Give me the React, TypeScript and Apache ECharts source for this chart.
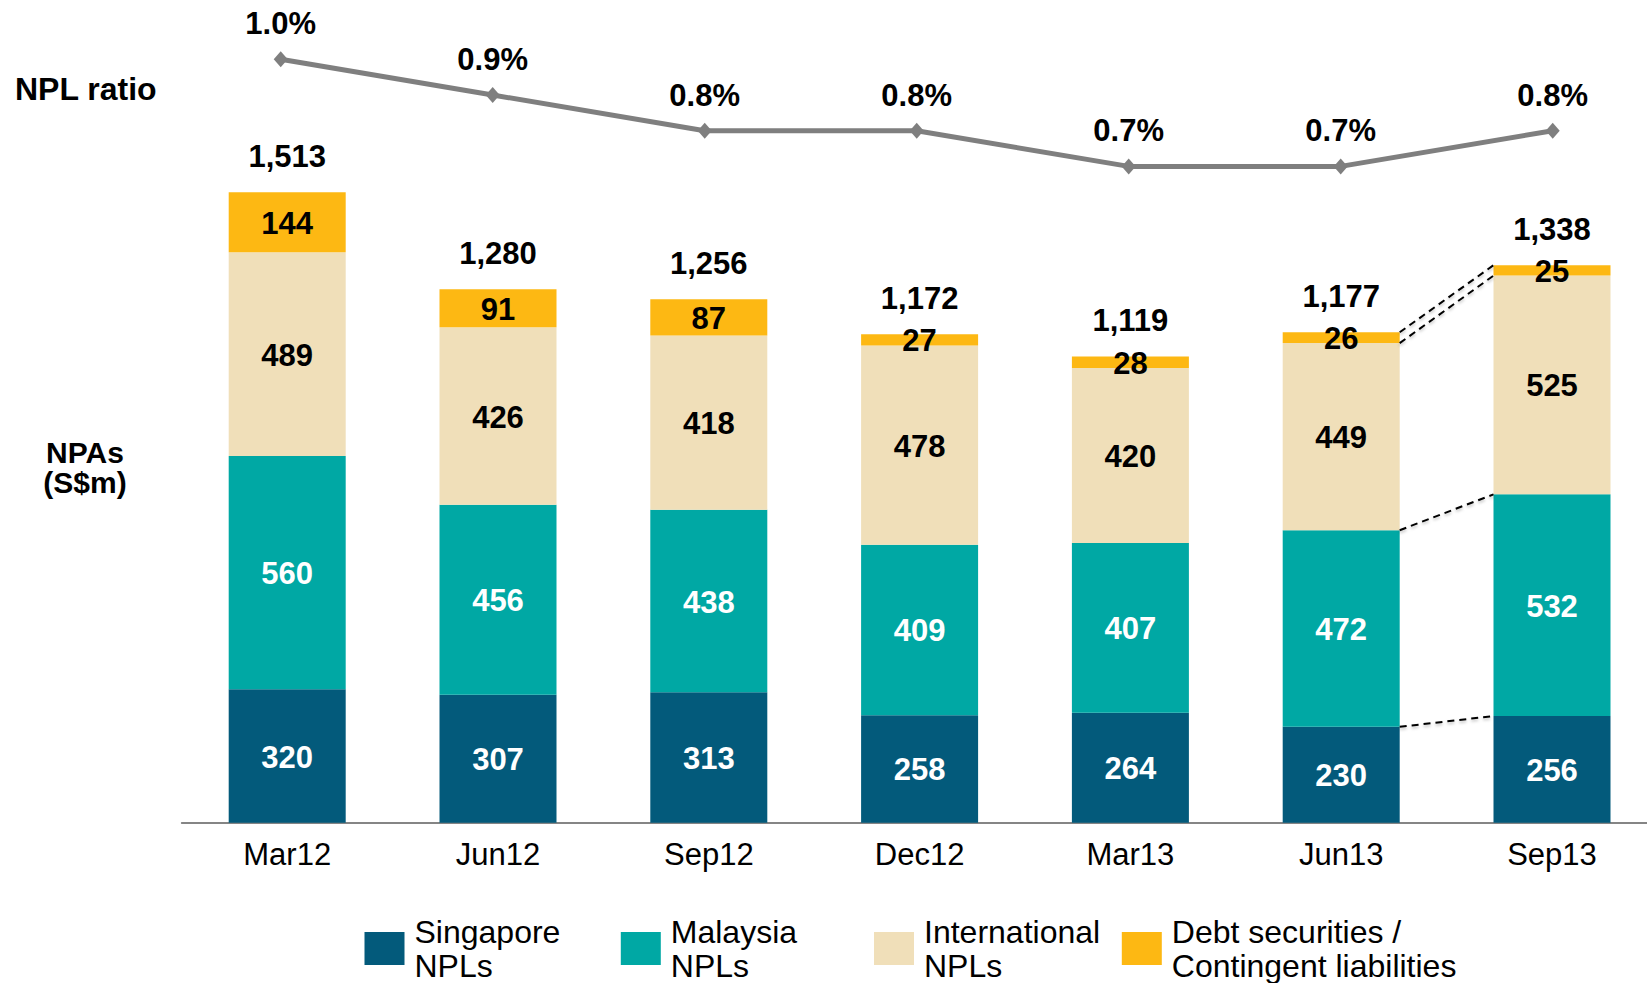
import React, { useEffect, useRef } from "react";
import * as echarts from "echarts";

const CATEGORIES = ["Mar12", "Jun12", "Sep12", "Dec12", "Mar13", "Jun13", "Sep13"];
const SINGAPORE = [320, 307, 313, 258, 264, 230, 256];
const MALAYSIA = [560, 456, 438, 409, 407, 472, 532];
const INTERNATIONAL = [489, 426, 418, 478, 420, 449, 525];
const DEBT = [144, 91, 87, 27, 28, 26, 25];
const TOTALS = [1513, 1280, 1256, 1172, 1119, 1177, 1338];
const NPL_RATIO = [1.0, 0.9, 0.8, 0.8, 0.7, 0.7, 0.8];

const SERIES_NAMES = ["Singapore NPLs", "Malaysia NPLs", "International NPLs", "Debt securities / Contingent liabilities"];
const LEGEND_TEXT = ["Singapore\nNPLs", "Malaysia\nNPLs", "International\nNPLs", "Debt securities /\nContingent liabilities"];
const COLORS = ["#035A7B", "#00A8A4", "#F0DFB9", "#FDB813"];
const LABEL_COLORS = ["#FFFFFF", "#FFFFFF", "#000000", "#000000"];

const FONT = "'Liberation Sans', Arial, Helvetica, sans-serif";
const BAR_WIDTH = 117;
const BOLD_SIZE = 31;

export default function App() {
  const ref = useRef<HTMLDivElement>(null);

  useEffect(() => {
    if (!ref.current) return;
    const chart = echarts.init(ref.current, null, { renderer: "svg" });
    const stacks = [SINGAPORE, MALAYSIA, INTERNATIONAL, DEBT];

    // cumulative boundaries for the Jun13 -> Sep13 connector lines
    const from = 5;
    const to = 6;
    const connectors: number[][] = [];
    let c1 = 0;
    let c2 = 0;
    stacks.forEach((s) => {
      c1 += s[from];
      c2 += s[to];
      connectors.push([from, to, c1, c2]);
    });

    const barSeries = stacks.map((data, i) => ({
      name: SERIES_NAMES[i],
      type: "bar",
      stack: "npa",
      xAxisIndex: 0,
      yAxisIndex: 0,
      barWidth: BAR_WIDTH,
      data,
      itemStyle: { color: COLORS[i] },
      label: {
        show: true,
        position: "inside",
        offset: [0, 1],
        color: LABEL_COLORS[i],
        fontFamily: FONT,
        fontWeight: "bold",
        fontSize: BOLD_SIZE,
        formatter: "{c}",
      },
      z: 2,
    }));

    const legends = SERIES_NAMES.map((name, i) => ({
      data: [name],
      left: [364.5, 620.8, 874, 1121.8][i],
      top: 914.5,
      padding: 0,
      orient: "horizontal",
      itemWidth: 40,
      itemHeight: 33,
      icon: "rect",
      formatter: () => LEGEND_TEXT[i],
      textStyle: {
        fontFamily: FONT,
        fontSize: 32,
        lineHeight: 34,
        color: "#000",
        padding: [0, 0, 0, 5],
      },
      selectedMode: false,
    }));

    chart.setOption({
      animation: false,
      backgroundColor: "#ffffff",
      grid: [
        { left: 181.8, top: 72.7, width: 1475.6, height: 750 },
        { left: 174.7, top: 23.6, width: 1484, height: 178.5 },
      ],
      legend: legends,
      xAxis: [
        {
          type: "category",
          gridIndex: 0,
          data: CATEGORIES,
          axisLine: { show: true, lineStyle: { color: "#858585", width: 2 } },
          axisTick: { show: false },
          axisLabel: {
            color: "#000",
            fontFamily: FONT,
            fontSize: 31,
            lineHeight: 30,
            margin: 17,
          },
        },
        {
          type: "category",
          gridIndex: 1,
          data: CATEGORIES,
          show: false,
        },
      ],
      yAxis: [
        { type: "value", gridIndex: 0, min: 0, max: 1800, show: false, splitLine: { show: false } },
        { type: "value", gridIndex: 1, min: 0.6, max: 1.1, show: false, splitLine: { show: false } },
      ],
      series: [
        ...barSeries,
        {
          name: "Total",
          type: "scatter",
          xAxisIndex: 0,
          yAxisIndex: 0,
          data: TOTALS,
          symbolSize: 1,
          itemStyle: { color: "rgba(0,0,0,0)", opacity: 1 },
          label: {
            show: true,
            position: "inside",
            offset: [0, -36],
            color: "#000",
            fontFamily: FONT,
            fontWeight: "bold",
            fontSize: BOLD_SIZE,
            formatter: (p: any) => Number(p.value).toLocaleString("en-US"),
          },
          z: 5,
        },
        {
          name: "Connectors",
          type: "custom",
          xAxisIndex: 0,
          yAxisIndex: 0,
          data: connectors,
          encode: { x: [0, 1], y: [2, 3] },
          renderItem: (params: any, api: any) => {
            const p1 = api.coord([api.value(0), api.value(2)]);
            const p2 = api.coord([api.value(1), api.value(3)]);
            const half = BAR_WIDTH / 2;
            return {
              type: "line",
              shape: { x1: p1[0] + half, y1: p1[1], x2: p2[0] - half, y2: p2[1] },
              style: {
                stroke: "#000",
                lineWidth: 2,
                lineDash: [7, 5],
                shadowColor: "rgba(0,0,0,0.25)",
                shadowBlur: 3,
                shadowOffsetY: 2,
              },
            };
          },
          z: 3,
        },
        {
          name: "NPL ratio",
          type: "line",
          xAxisIndex: 1,
          yAxisIndex: 1,
          data: NPL_RATIO,
          clip: false,
          symbol: "diamond",
          symbolSize: [14, 16],
          lineStyle: { color: "#7F7F7F", width: 5 },
          itemStyle: { color: "#7F7F7F" },
          label: {
            show: true,
            position: "inside",
            offset: [0, -35.5],
            color: "#000",
            fontFamily: FONT,
            fontWeight: "bold",
            fontSize: BOLD_SIZE,
            formatter: (p: any) => Number(p.value).toFixed(1) + "%",
          },
          z: 4,
        },
      ],
      graphic: [
        {
          type: "text",
          left: 15,
          top: 73,
          style: {
            text: "NPL ratio",
            fontFamily: FONT,
            fontWeight: "bold",
            fontSize: 32,
            fill: "#000",
          },
        },
        {
          type: "text",
          x: 85,
          y: 452,
          style: {
            text: "NPAs",
            fontFamily: FONT,
            fontWeight: "bold",
            fontSize: 30,
            lineHeight: 30,
            align: "center",
            verticalAlign: "middle",
            fill: "#000",
          },
        },
        {
          type: "text",
          x: 85,
          y: 482.5,
          style: {
            text: "(S$m)",
            fontFamily: FONT,
            fontWeight: "bold",
            fontSize: 30,
            lineHeight: 30,
            align: "center",
            verticalAlign: "middle",
            fill: "#000",
          },
        },
      ],
    });

    return () => chart.dispose();
  }, []);

  return (
    <div
      style={{
        position: "absolute",
        left: 0,
        top: 0,
        width: 1647,
        height: 983,
        overflow: "hidden",
        background: "#fff",
      }}
    >
      <div ref={ref} style={{ width: 1700, height: 983 }} />
    </div>
  );
}
